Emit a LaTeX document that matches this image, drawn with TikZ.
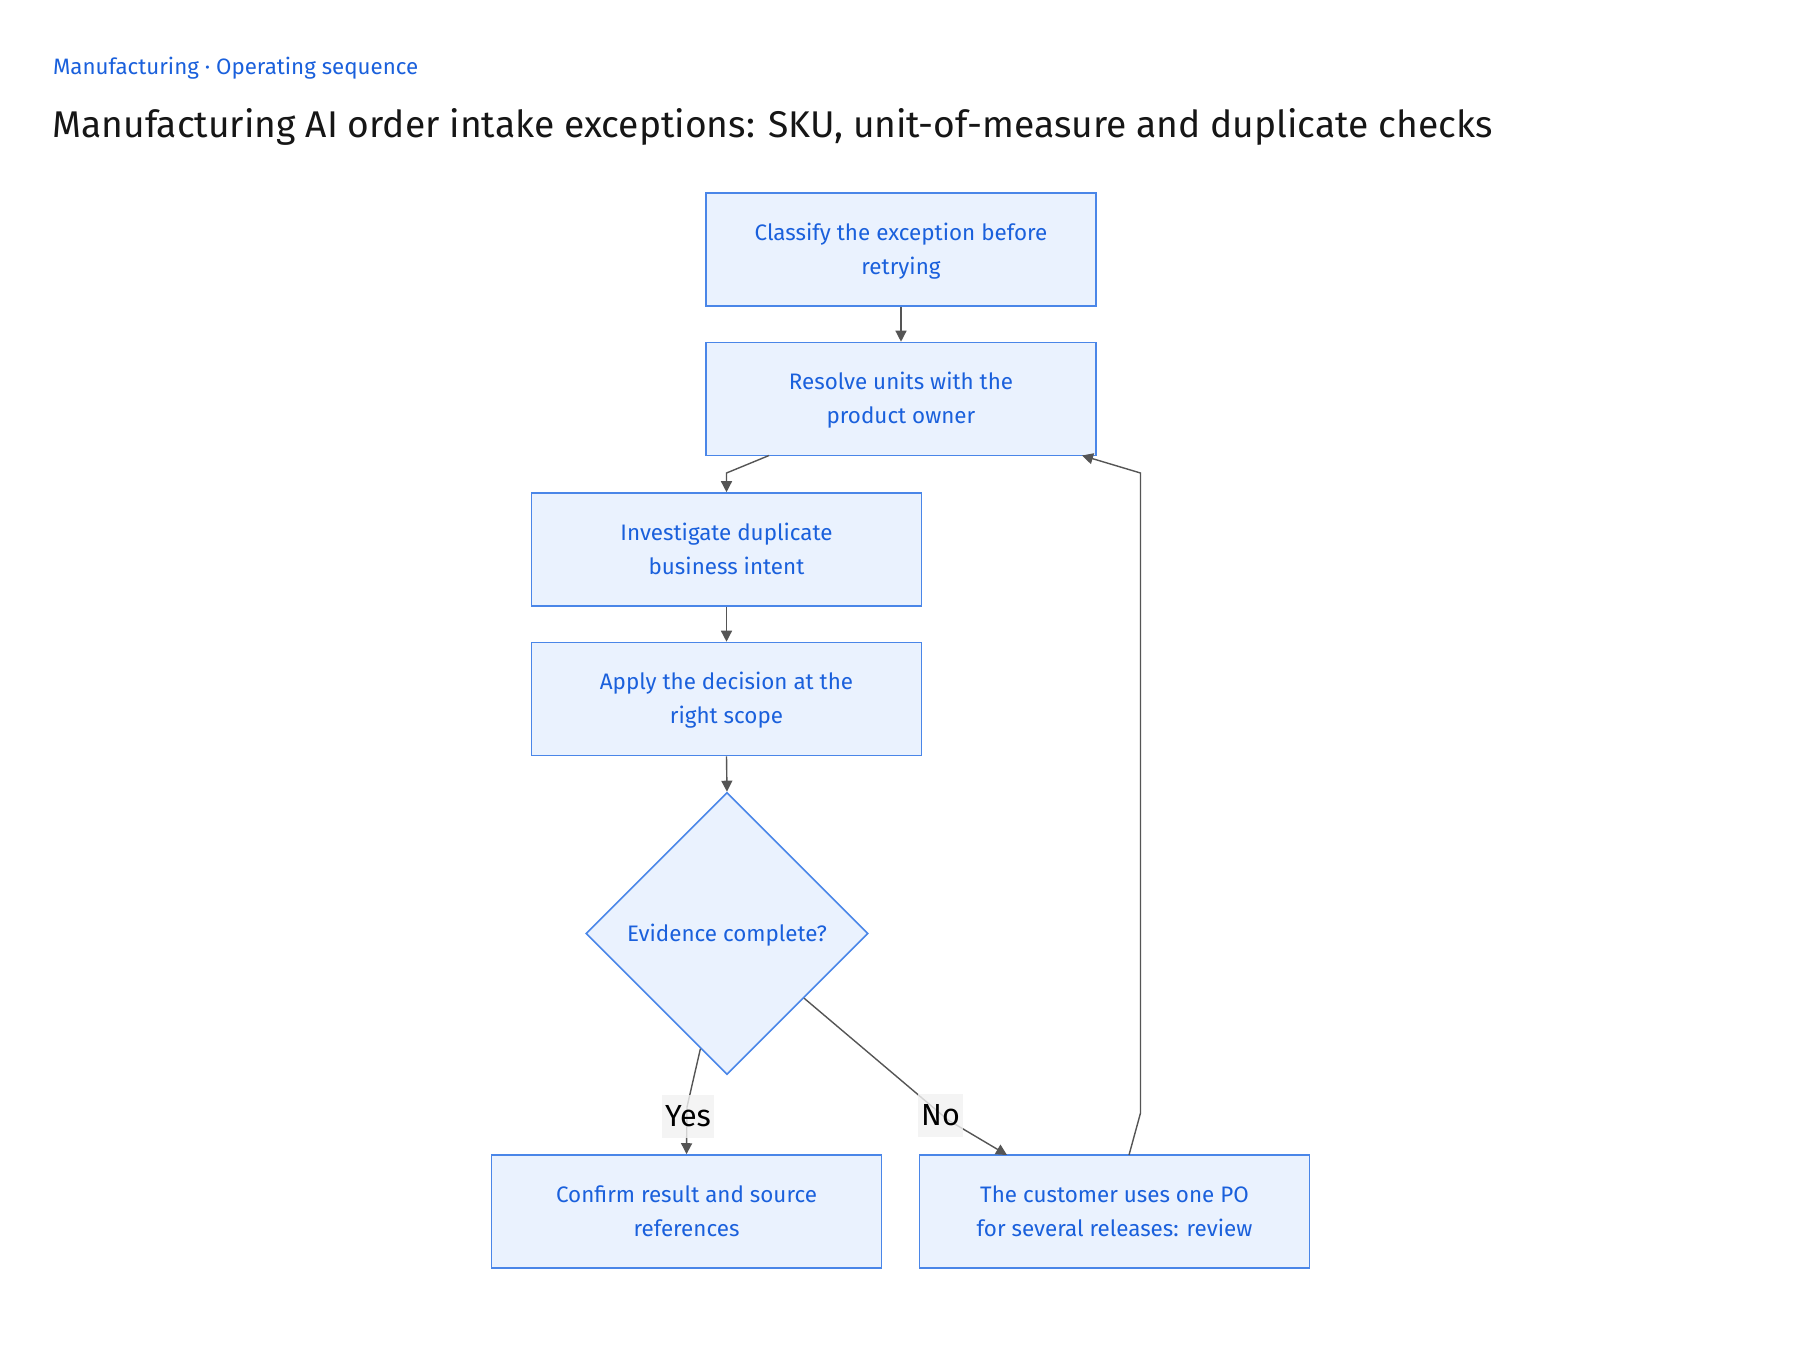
\documentclass[tikz,border=0pt]{standalone}
\usepackage{fontspec}
\setmainfont{Fira Sans}
\usetikzlibrary{arrows.meta,shapes.geometric}
\definecolor{boxfill}{HTML}{EAF2FE}
\definecolor{boxline}{HTML}{4A86E8}
\definecolor{boxtext}{HTML}{1A60DC}
\definecolor{edgec}{HTML}{555555}
\definecolor{titlec}{HTML}{161616}
\definecolor{lblbg}{HTML}{F2F2F2}
\newcommand\bxstrut{\rule[-8pt]{0pt}{31pt}}
\newcommand\dmstrut{\rule[-5pt]{0pt}{26.5pt}}
\begin{document}
\begin{tikzpicture}[x=1pt,y=-1pt,
  stepbox/.style={rectangle,draw=boxline,line width=1.6pt,fill=boxfill,
    minimum width=390pt,minimum height=113pt,text=boxtext,align=center,inner sep=0pt,
    font=\fontsize{22.4}{34}\selectfont},
  decbox/.style={diamond,draw=boxline,line width=1.6pt,fill=boxfill,
    minimum width=282pt,minimum height=282pt,text=boxtext,align=center,inner sep=0pt,
    font=\fontsize{22.4}{34}\selectfont},
  flow/.style={draw=edgec,line width=1.4pt,-{Triangle[length=11pt,width=11pt]}},
  lbl/.style={fill=lblbg,text=black,inner sep=3pt,minimum height=43pt,
    font=\fontsize{30.5}{32}\selectfont}
]
\useasboundingbox[fill=white] (0,0) rectangle (1800,1350);

\node[anchor=base west,text=boxtext,font=\fontsize{22.3}{26}\selectfont] (sub) at (49.5,74) {Manufacturing · Operating sequence};
\node[anchor=base west,text=titlec,font=\fontsize{37.2}{44}\selectfont] (title) at (49,137) {Manufacturing AI order intake exceptions: SKU, unit-of-measure and duplicate checks};

\node[stepbox] (b1) at (901,249.5) {\bxstrut Classify the exception before\\\bxstrut retrying};
\node[stepbox] (b2) at (901,399) {\bxstrut Resolve units with the\\\bxstrut product owner};
\node[stepbox] (b3) at (726.5,549.5) {\bxstrut Investigate duplicate\\\bxstrut business intent};
\node[stepbox] (b4) at (726.5,699) {\bxstrut Apply the decision at the\\\bxstrut right scope};
\node[decbox] (d) at (727,933.5) {\dmstrut Evidence complete?};
\node[stepbox] (b5) at (686.5,1211.5) {\bxstrut Confirm result and source\\\bxstrut references};
\node[stepbox] (b6) at (1114.5,1211.5) {\bxstrut The customer uses one PO\\\bxstrut for several releases: review};

\coordinate (c2a) at (769,455.5);
\coordinate (c2b) at (726.5,473);
\coordinate (y1) at (687,1107);
\coordinate (n1) at (948,1120);
\coordinate (n2) at (1007,1155);
\coordinate (r0) at (1129,1155);
\coordinate (r1) at (1140.5,1113);
\coordinate (r2) at (1140.5,473);
\coordinate (r3) at (1082,455.5);

\draw[flow] (b1.south) -- (b2.north);
\draw[flow] (c2a) -- (c2b) -- (b3.north);
\draw[flow] (b3.south) -- (b4.north);
\draw[flow] (b4.south) -- (d.north);
\draw[flow] (d.-103) -- (y1) -- (b5.north);
\draw[flow] (d.-40) -- (n1) -- (n2);
\draw[flow] (r0) -- (r1) -- (r2) -- (r3);

\node[lbl,fill opacity=0.8,text opacity=1] (ly) at (688,1116) {Yes};
\node[lbl,fill opacity=0.8,text opacity=1] (ln) at (940.5,1115) {No};
\end{tikzpicture}
\end{document}
